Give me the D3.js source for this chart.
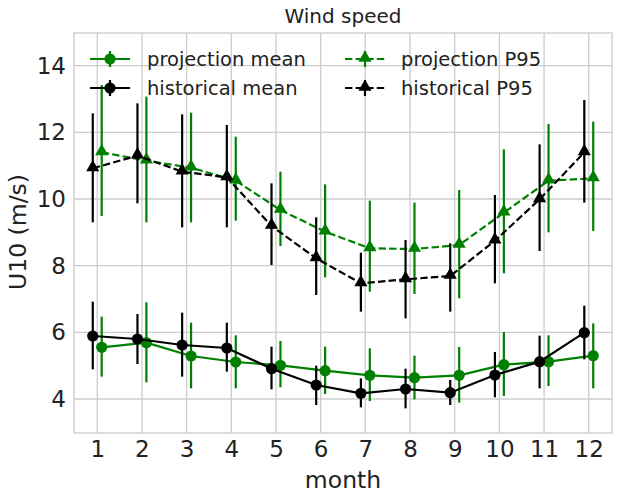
<!DOCTYPE html>
<html>
<head>
<meta charset="utf-8">
<script src="https://cdn.jsdelivr.net/npm/d3@7"></script>
<style>
  body { margin: 0; background: #fff; }
  text { font-family: "DejaVu Sans", sans-serif; fill: #222; }
</style>
</head>
<body>
<svg id="chart"></svg>
<script>
// data
const months = [1, 2, 3, 4, 5, 6, 7, 8, 9, 10, 11, 12];

const projMean = [5.55, 5.69, 5.29, 5.11, 5.01, 4.85, 4.71, 4.64, 4.71, 5.03, 5.12, 5.30];
const projMeanLo = [4.67, 4.50, 4.32, 4.32, 4.35, 4.15, 3.94, 3.99, 3.89, 4.09, 4.39, 4.32];
const projMeanHi = [6.47, 6.90, 6.29, 5.91, 5.74, 5.57, 5.52, 5.30, 5.56, 6.01, 5.91, 6.27];

const histMean = [5.89, 5.80, 5.62, 5.53, 4.91, 4.42, 4.17, 4.30, 4.19, 4.72, 5.12, 5.99];
const histMeanLo = [4.89, 5.05, 4.67, 4.82, 4.29, 3.82, 3.75, 3.72, 3.82, 4.05, 4.32, 5.19];
const histMeanHi = [6.92, 6.55, 6.59, 6.29, 5.57, 5.00, 4.62, 4.91, 4.57, 5.41, 5.90, 6.80];

const projP95 = [11.40, 11.15, 10.94, 10.55, 9.67, 9.02, 8.52, 8.50, 8.62, 9.59, 10.55, 10.62];
const projP95Lo = [9.49, 9.30, 9.30, 9.35, 8.59, 7.65, 7.22, 7.15, 7.02, 7.77, 9.00, 9.04];
const projP95Hi = [13.42, 13.07, 12.59, 11.87, 10.82, 10.44, 9.95, 9.89, 10.27, 11.49, 12.25, 12.32];

const histP95 = [10.92, 11.30, 10.82, 10.65, 9.19, 8.22, 7.47, 7.59, 7.69, 8.75, 9.99, 11.40];
const histP95Lo = [9.30, 9.87, 9.15, 9.15, 8.02, 7.12, 6.62, 6.42, 6.62, 7.47, 8.44, 9.89];
const histP95Hi = [12.57, 12.87, 12.54, 12.22, 10.47, 9.45, 8.39, 8.77, 8.67, 10.12, 11.64, 12.97];

const yTicks = [4, 6, 8, 10, 12, 14];

const series = [
  { name: "projection mean", v: projMean, lo: projMeanLo, hi: projMeanHi, color: "green", dash: null, marker: "circle", dx: 0.1 },
  { name: "historical mean", v: histMean, lo: histMeanLo, hi: histMeanHi, color: "black", dash: null, marker: "circle", dx: -0.1 },
  { name: "projection P95", v: projP95, lo: projP95Lo, hi: projP95Hi, color: "green", dash: "7.4,3.2", marker: "triangle", dx: 0.1 },
  { name: "historical P95", v: histP95, lo: histP95Lo, hi: histP95Hi, color: "black", dash: "7.4,3.2", marker: "triangle", dx: -0.1 }
];

const width = 624, height = 494;
const margin = { top: 33, right: 12, bottom: 61, left: 74 };

const svg = d3.select("#chart").attr("width", width).attr("height", height);

const x = d3.scaleLinear().domain([0.48, 12.52]).range([margin.left, width - margin.right]);
const y = d3.scaleLinear().domain([2.98, 14.98]).range([height - margin.bottom, margin.top]);

// grid
const grid = svg.append("g").attr("class", "grid");
grid.selectAll(".vgrid")
  .data(months)
  .join("line")
  .attr("x1", d => x(d)).attr("x2", d => x(d))
  .attr("y1", margin.top).attr("y2", height - margin.bottom)
  .attr("stroke", "#cccccc").attr("stroke-width", 1.3);
grid.selectAll(".hgrid")
  .data(yTicks)
  .join("line")
  .attr("y1", d => y(d)).attr("y2", d => y(d))
  .attr("x1", margin.left).attr("x2", width - margin.right)
  .attr("stroke", "#cccccc").attr("stroke-width", 1.3);

// axes (tick labels only, seaborn style)
const xAxis = svg.append("g")
  .attr("transform", `translate(0,${height - margin.bottom})`)
  .call(d3.axisBottom(x).tickValues(months).tickSize(0).tickPadding(8));
const yAxis = svg.append("g")
  .attr("transform", `translate(${margin.left},0)`)
  .call(d3.axisLeft(y).tickValues(yTicks).tickSize(0).tickPadding(8));
[xAxis, yAxis].forEach(a => {
  a.select(".domain").remove();
  a.selectAll("text").attr("font-size", 23).attr("font-family", "DejaVu Sans").attr("fill", "#222");
});

// frame
svg.append("rect")
  .attr("x", margin.left).attr("y", margin.top)
  .attr("width", width - margin.left - margin.right)
  .attr("height", height - margin.top - margin.bottom)
  .attr("fill", "none").attr("stroke", "#cccccc").attr("stroke-width", 1.3);

const tri = d3.symbol().type(d3.symbolTriangle).size(75);

function drawMarker(g, s, cx, cy) {
  if (s.marker === "circle") {
    g.append("circle").attr("cx", cx).attr("cy", cy).attr("r", 5.6).attr("fill", s.color);
  } else {
    g.append("path").attr("d", tri).attr("transform", `translate(${cx},${cy - 1})`).attr("fill", s.color);
  }
}

const line = d3.line();

series.forEach(s => {
  const g = svg.append("g");
  const pts = months.map((m, i) => [x(m + s.dx), y(s.v[i])]);
  g.append("path")
    .attr("d", line(pts))
    .attr("fill", "none")
    .attr("stroke", s.color)
    .attr("stroke-width", 2.2)
    .attr("stroke-dasharray", s.dash);
  g.selectAll(".err")
    .data(months)
    .join("line")
    .attr("x1", (m) => x(m + s.dx)).attr("x2", (m) => x(m + s.dx))
    .attr("y1", (m, i) => y(s.lo[i])).attr("y2", (m, i) => y(s.hi[i]))
    .attr("stroke", s.color).attr("stroke-width", 2.2);
  pts.forEach(p => drawMarker(g, s, p[0], p[1]));
});

// legend
const legendPos = [
  { hx: 90, tx: 147, y: 59 },
  { hx: 90, tx: 147, y: 88 },
  { hx: 345, tx: 401, y: 59 },
  { hx: 345, tx: 401, y: 88 }
];
series.forEach((s, i) => {
  const p = legendPos[i];
  const g = svg.append("g");
  g.append("line")
    .attr("x1", p.hx).attr("x2", p.hx + 40)
    .attr("y1", p.y).attr("y2", p.y)
    .attr("stroke", s.color).attr("stroke-width", 2.2)
    .attr("stroke-dasharray", s.dash ? "7.4,3.2" : null);
  g.append("line")
    .attr("x1", p.hx + 20).attr("x2", p.hx + 20)
    .attr("y1", p.y - 8).attr("y2", p.y + 8)
    .attr("stroke", s.color).attr("stroke-width", 2.2);
  drawMarker(g, s, p.hx + 20, p.y);
  g.append("text")
    .attr("x", p.tx).attr("y", p.y + 7)
    .attr("font-size", 19.5)
    .text(s.name);
});

// title and labels
svg.append("text")
  .attr("x", (margin.left + width - margin.right) / 2)
  .attr("y", 23)
  .attr("text-anchor", "middle")
  .attr("font-size", 20)
  .text("Wind speed");

svg.append("text")
  .attr("x", (margin.left + width - margin.right) / 2)
  .attr("y", 488)
  .attr("text-anchor", "middle")
  .attr("font-size", 23.5)
  .text("month");

svg.append("text")
  .attr("transform", `translate(26,${232}) rotate(-90)`)
  .attr("text-anchor", "middle")
  .attr("font-size", 23.5)
  .text("U10 (m/s)");
</script>
</body>
</html>
